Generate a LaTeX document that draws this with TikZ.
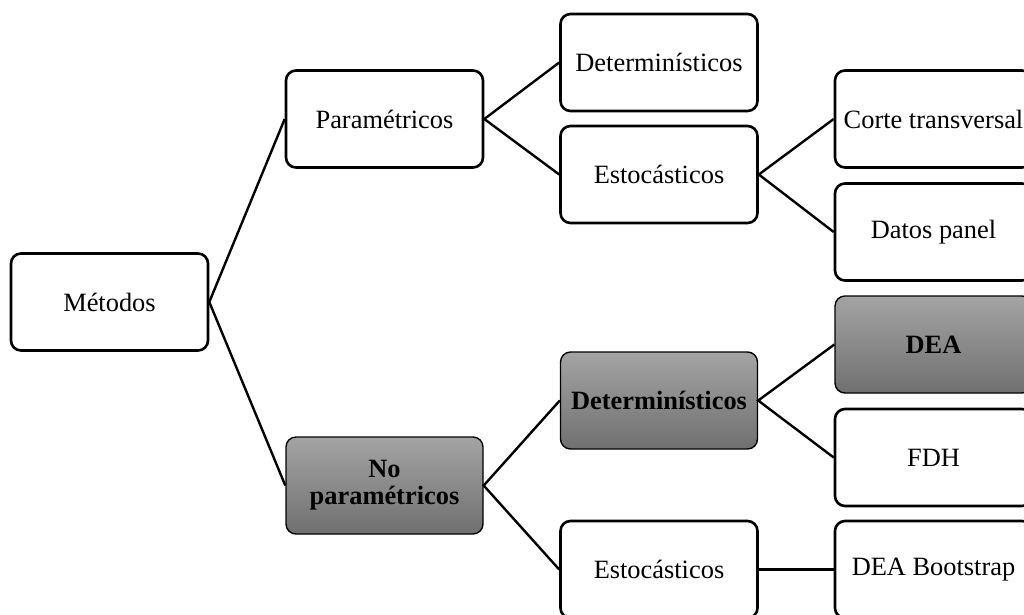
\documentclass[tikz,border=0pt]{standalone}
\usepackage{fontspec}
\setmainfont{Liberation Serif}
\usetikzlibrary{positioning}

\definecolor{grisclaro}{RGB}{164,164,164}
\definecolor{grisoscuro}{RGB}{112,112,112}

\tikzset{
  metodo/.style={draw, line width=2.6pt, rounded corners=10pt, fill=white,
    minimum width=197pt, minimum height=97pt, inner sep=0pt, align=center,
    font=\fontsize{26.4}{27}\selectfont},
  marcado/.style={metodo, line width=1.4pt, top color=grisclaro, bottom color=grisoscuro,
    font=\fontsize{26.4}{27}\selectfont\bfseries},
  rama/.style={line width=2.4pt}
}

\begin{document}
\begin{tikzpicture}[x=1pt,y=-1pt]
      \useasboundingbox (0,0) rectangle (1024,614);
      % root
      \node[metodo] (metodos) at (109.5,302) {Métodos};
      % second level
      \node[metodo] (param) at (384.5,119) {Paramétricos};
      \node[marcado] (noparam) at (384.5,485.5) {No\\paramétricos};
      % third level
      \node[metodo] (detA) at (659,62.5) {Determinísticos};
      \node[metodo] (estA) at (659,174.5) {Estocásticos};
      \node[marcado] (detB) at (659,400.5) {Determinísticos};
      \node[metodo] (estB) at (659,569.5) {Estocásticos};
      % leaves (cut by the page edge)
      \node[metodo] (corte) at (933.5,119) {Corte transversal};
      \node[metodo] (panel) at (933.5,232) {Datos panel};
      \node[marcado] (dea) at (933.5,344.5) {DEA};
      \node[metodo] (fdh) at (933.5,457.5) {FDH};
      \node[metodo] (boot) at (933.5,569.5) {DEA Bootstrap};

      % branches
      \draw[rama] (param.west) -- (metodos.east) -- (noparam.west);
      \draw[rama] (detA.west) -- (param.east) -- (estA.west);
      \draw[rama] (corte.west) -- (estA.east) -- (panel.west);
      \draw[rama] (detB.west) -- (noparam.east) -- (estB.west);
      \draw[rama] (dea.west) -- (detB.east) -- (fdh.west);
      \draw[rama] (estB.east) -- (boot.west);
    \end{tikzpicture}
\end{document}
